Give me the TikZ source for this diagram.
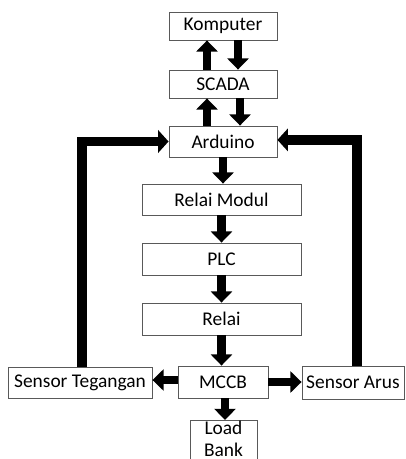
\documentclass[tikz,border=0pt]{standalone}
\usepackage{fontspec}
\setmainfont{Carlito}
\usepackage{tikz}
\usetikzlibrary{arrows.meta}

\begin{document}
\begin{tikzpicture}[x=0.025cm, y=-0.025cm,
  box/.style={draw=black!65, line width=0.6pt, inner xsep=2pt, inner ysep=1pt,
    font=\fontsize{13.8}{15.6}\selectfont, align=center},
  blk/.style={line width=6pt, -{Triangle[width=15pt, length=8pt]}},
  fb/.style={line width=7pt, -{Triangle[width=16pt, length=7.5pt]}}]
\clip (0,0) rectangle (406,459);
\node[box, minimum width=2.7cm, minimum height=0.7cm] (komputer) at (223,26) {Komputer};
\node[box, minimum width=2.7cm, minimum height=0.7cm] (scada) at (223,84) {SCADA};
\node[box, minimum width=2.7cm, minimum height=0.775cm] (arduino) at (223,141.5) {Arduino};
\node[box, minimum width=3.975cm, minimum height=0.775cm] (relaimodul) at (221.5,199.5) {Relai Modul};
\node[box, minimum width=3.975cm, minimum height=0.8cm] (plc) at (221.5,259) {PLC};
\node[box, minimum width=3.975cm, minimum height=0.8cm] (relai) at (221.5,319) {Relai};
\node[box, minimum width=2.25cm, minimum height=0.8cm] (mccb) at (223,382) {MCCB};
\node[box, minimum width=3.6cm, minimum height=0.775cm] (stegangan) at (80,382.5) {Sensor Tegangan};
\node[box, minimum width=2.55cm, minimum height=0.825cm] (sarus) at (353,382.5) {Sensor Arus};
\node[box, minimum width=1.675cm, inner ysep=0.5pt, text depth=6pt, anchor=north] (loadbank) at (223.5,420) {Load\\Bank};
\draw[blk] ([xshift=0.375cm]komputer.south) -- ([xshift=0.375cm]scada.north);
\draw[blk] ([xshift=-0.4cm]scada.north) -- ([xshift=-0.4cm]komputer.south);
\draw[blk] ([xshift=0.425cm]scada.south) -- ([xshift=0.425cm]arduino.north);
\draw[blk] ([xshift=-0.4cm]arduino.north) -- ([xshift=-0.4cm]scada.south);
\draw[blk] (arduino.south) -- (arduino.south |- relaimodul.north);
\draw[blk] (relaimodul.south) -- (plc.north);
\draw[blk] (plc.south) -- (relai.north);
\draw[blk] (relai.south) -- (relai.south |- mccb.north);
\draw[blk] ([yshift=0.05cm]mccb.west) -- ([yshift=0.05cm]mccb.west -| stegangan.east);
\draw[blk] (mccb.east) -- (mccb.east -| sarus.west);
\draw[blk] ([xshift=0.05cm]mccb.south) -- ([xshift=0.05cm]mccb.south |- loadbank.north);
\draw[fb] ([xshift=0.05cm]stegangan.north) |- (arduino.west);
\draw[fb] ([xshift=0.1cm]sarus.north) |- ([yshift=0.04cm]arduino.east);
\end{tikzpicture}
\end{document}
